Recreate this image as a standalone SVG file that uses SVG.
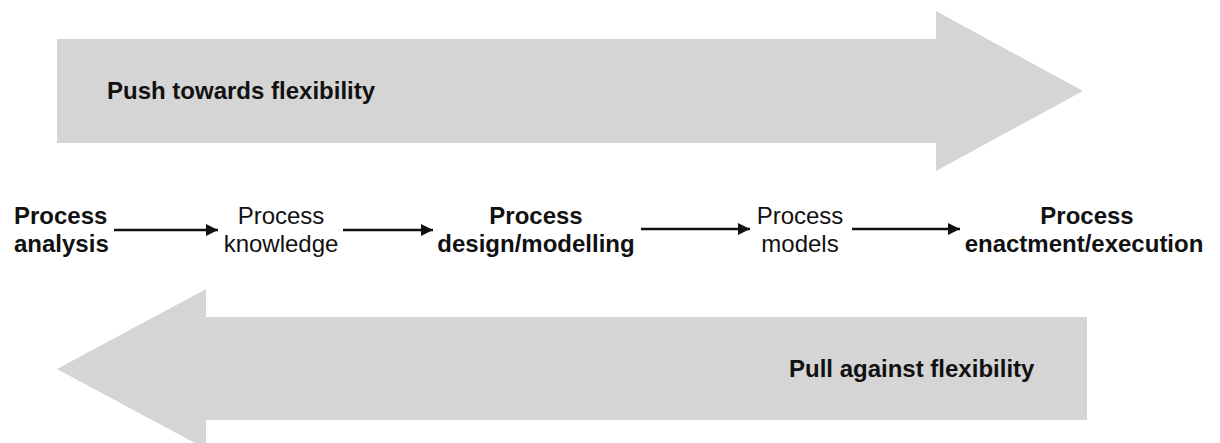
<svg xmlns="http://www.w3.org/2000/svg" width="1220" height="443" viewBox="0 0 1220 443">
<style>
.big{fill:#d5d5d5}
text{font-family:"Liberation Sans",Arial,Helvetica,sans-serif;font-size:24px;fill:#111}
.b{font-weight:bold}
.c{text-anchor:middle}
.ln{stroke:#111;stroke-width:2.6;fill:none}
</style>
<defs>
<marker id="ah" viewBox="0 0 10 10" refX="10" refY="5" markerWidth="15" markerHeight="12" markerUnits="userSpaceOnUse" orient="auto">
<path d="M0,0 L10,5 L0,10 z" fill="#111"/>
</marker>
</defs>
<rect width="1220" height="443" fill="#fff"/>
<g id="push">
<polygon class="big" points="57,39 936,39 936,11 1083,91 936,171 936,143 57,143"/>
<text class="b" x="107" y="99">Push towards flexibility</text>
</g>
<g id="pull">
<polygon class="big" points="1087,317 206,317 206,289 57,369 206,449 206,420 1087,420"/>
<text class="b" x="789" y="377">Pull against flexibility</text>
</g>
<g id="n1"><text class="b" x="14" y="224">Process</text><text class="b" x="14" y="252">analysis</text></g>
<g id="n2"><text class="c" x="281" y="224">Process</text><text class="c" x="281" y="252">knowledge</text></g>
<g id="n3"><text class="b c" x="536" y="224">Process</text><text class="b c" x="536" y="252">design/modelling</text></g>
<g id="n4"><text class="c" x="800" y="224">Process</text><text class="c" x="800" y="252">models</text></g>
<g id="n5"><text class="b c" x="1087" y="224">Process</text><text class="b c" x="1084" y="252">enactment/execution</text></g>
<g id="connectors">
<line class="ln" x1="114" y1="230" x2="218" y2="230" marker-end="url(#ah)"/>
<line class="ln" x1="343" y1="230" x2="433" y2="230" marker-end="url(#ah)"/>
<line class="ln" x1="641" y1="229" x2="750" y2="229" marker-end="url(#ah)"/>
<line class="ln" x1="852" y1="229" x2="960" y2="229" marker-end="url(#ah)"/>
</g>
</svg>
